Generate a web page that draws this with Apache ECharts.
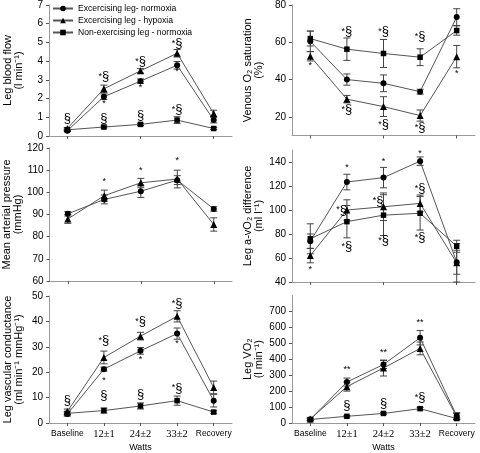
<!DOCTYPE html>
<html><head><meta charset="utf-8">
<script src="https://cdn.jsdelivr.net/npm/echarts@6/dist/echarts.min.js"></script>
<style>html,body{margin:0;padding:0;background:#fff}#c{width:480px;height:453px}</style>
</head><body><div id="c"></div>
<script>
const categories = ['Baseline', '12±1', '24±2', '33±2', 'Recovery'];
const seriesNames = ['Excercising leg- normoxia', 'Excercising leg - hypoxia', 'Non-exercising leg - normoxia'];

// Panel 1: Leg blood flow (l min-1)
const flowNormoxia = [0.28, 2.1, 2.93, 3.78, 0.85];
const flowNormoxiaErr = [0.05, 0.15, 0.12, 0.2, 0.15];
const flowHypoxia = [0.4, 2.52, 3.48, 4.42, 1.2];
const flowHypoxiaErr = [0.05, 0.2, 0.12, 0.2, 0.18];
const flowNonEx = [0.33, 0.48, 0.62, 0.85, 0.4];
const flowNonExErr = [0.04, 0.05, 0.06, 0.18, 0.05];
const flowMarks = [[0, 0.95, '§'], [1, 3.2, '*§'], [1, 1.72, '*'], [1, 0.92, '§'], [2, 4.0, '*§'], [2, 2.6, '*'], [2, 1.1, '§'], [3, 4.95, '*§'], [3, 3.42, '*'], [3, 1.4, '*§']];
const flowTicks = [0, 1, 2, 3, 4, 5, 6, 7];

// Panel 2: Venous O2 saturation (%)
const satNormoxia = [60.5, 40, 38, 33.5, 73.5];
const satNormoxiaErr = [5.5, 3, 4.5, 1.3, 4.5];
const satHypoxia = [52.5, 29.5, 25.5, 20.7, 52.3];
const satHypoxiaErr = [2.5, 2, 5.3, 3, 6];
const satNonEx = [62, 56.3, 54, 52, 66.3];
const satNonExErr = [4, 6, 7.5, 4.5, 2.5];
const satMarks = [[0, 47.5, '*'], [1, 66, '*§'], [1, 24, '*§'], [2, 66, '*§'], [2, 16, '*§'], [3, 63, '*§'], [3, 14.5, '*§'], [4, 43, '*']];
const satTicks = [20, 40, 60, 80];

// Panel 3: Mean arterial pressure (mmHg)
const mapNormoxia = [90.3, 96.8, 100.5, 105.5, 92.5];
const mapNormoxiaErr = [1, 2, 2.8, 2, 1];
const mapHypoxia = [88, 98.5, 104.3, 106, 85.5];
const mapHypoxiaErr = [2, 2.5, 2, 4, 3];
const mapMarks = [[1, 105, '*'], [2, 110, '*'], [3, 114.5, '*']];
const mapTicks = [60, 70, 80, 90, 100, 110, 120];

// Panel 4: Leg a-vO2 difference (ml l-1)
const avoNormoxia = [74, 123.3, 127, 140.7, 56.5];
const avoNormoxiaErr = [6, 6.5, 8.5, 3.5, 10];
const avoHypoxia = [62, 100, 102.7, 105.5, 56];
const avoHypoxiaErr = [6, 8.5, 11.5, 7, 16];
const avoNonEx = [76, 90.3, 95.7, 97.3, 69.8];
const avoNonExErr = [12.5, 13.5, 17, 14, 5];
const avoMarks = [[0, 50, '*'], [1, 135.5, '*'], [2, 140, '*'], [3, 147, '*'], [1, 100, '*§', 'right'], [2, 107.5, '*§', 'right'], [3, 118, '*§'], [1, 69.5, '*§'], [2, 74.5, '*§'], [3, 77, '*§']];
const avoTicks = [40, 60, 80, 100, 120, 140];

// Panel 5: Leg vascular conductance (ml min-1 mmHg-1)
const condNormoxia = [3.5, 21.2, 28.4, 35.2, 8.8];
const condNormoxiaErr = [0.8, 0.8, 1.3, 2.2, 2.5];
const condHypoxia = [4.5, 25.8, 34.2, 42, 14];
const condHypoxiaErr = [1, 2.5, 1.5, 2.2, 2.5];
const condNonEx = [3.8, 4.9, 6.7, 8.8, 4.3];
const condNonExErr = [0.7, 1, 1.2, 1.8, 0.5];
const condMarks = [[0, 8.8, '§'], [1, 32.5, '*§'], [1, 16.8, '*'], [1, 10.7, '§'], [2, 39.8, '*§'], [2, 25, '*'], [2, 11.2, '§'], [3, 47, '*§'], [3, 31.3, '*'], [3, 13.8, '*§']];
const condTicks = [0, 10, 20, 30, 40, 50];

// Panel 6: Leg VO2 (l min-1)
const vo2Normoxia = [22, 257, 367, 535, 45];
const vo2NormoxiaErr = [8, 25, 25, 45, 20];
const vo2Hypoxia = [25, 228, 345, 468, 40];
const vo2HypoxiaErr = [8, 28, 50, 40, 20];
const vo2NonEx = [22, 42, 60, 90, 28];
const vo2NonExErr = [5, 5, 5, 8, 5];
const vo2Marks = [[1, 335, '**'], [2, 445, '**'], [3, 628, '**'], [1, 110, '§'], [2, 122, '§'], [3, 160, '*§']];
const vo2Ticks = [0, 100, 200, 300, 400, 500, 600, 700];

const SANS = "'Liberation Sans', Arial, sans-serif";
const SERIF = "'Liberation Serif', 'Times New Roman', serif";
const symbols = ['circle', 'triangle', 'rect'];
const symSizes = [6, 7, 5.5];

const panels = [
  {grid: {left: 49, top: 3, width: 183, height: 133}, min: 0, max: 7, ticks: flowTicks,
   name: 'Leg blood flow\n(l min⁻¹)', gap: 25, bottom: false,
   lines: [[0, flowNormoxia, flowNormoxiaErr], [1, flowHypoxia, flowHypoxiaErr], [2, flowNonEx, flowNonExErr]], marks: flowMarks},
  {grid: {left: 292, top: 4, width: 183, height: 131.5}, min: 10, max: 80, ticks: satTicks,
   name: 'Venous O₂ saturation\n(%)', gap: 28, bottom: false,
   lines: [[0, satNormoxia, satNormoxiaErr], [1, satHypoxia, satHypoxiaErr], [2, satNonEx, satNonExErr]], marks: satMarks},
  {grid: {left: 49, top: 148, width: 183, height: 133}, min: 60, max: 120, ticks: mapTicks,
   name: 'Mean arterial pressure\n(mmHg)', gap: 25, bottom: false,
   lines: [[0, mapNormoxia, mapNormoxiaErr], [1, mapHypoxia, mapHypoxiaErr]], marks: mapMarks},
  {grid: {left: 292, top: 150, width: 183, height: 132}, min: 40, max: 150, ticks: avoTicks,
   name: 'Leg a-vO₂ difference\n(ml l⁻¹)', gap: 28, bottom: false,
   lines: [[0, avoNormoxia, avoNormoxiaErr], [1, avoHypoxia, avoHypoxiaErr], [2, avoNonEx, avoNonExErr]], marks: avoMarks},
  {grid: {left: 49, top: 296, width: 183, height: 130}, min: 0, max: 50, ticks: condTicks,
   name: 'Leg vascular conductance\n(ml min⁻¹ mmHg⁻¹)', gap: 25, bottom: true,
   lines: [[0, condNormoxia, condNormoxiaErr], [1, condHypoxia, condHypoxiaErr], [2, condNonEx, condNonExErr]], marks: condMarks},
  {grid: {left: 292, top: 295.5, width: 183, height: 130.5}, min: 0, max: 800, ticks: vo2Ticks,
   name: 'Leg VO₂\n(l min⁻¹)', gap: 28, bottom: true,
   lines: [[0, vo2Normoxia, vo2NormoxiaErr], [1, vo2Hypoxia, vo2HypoxiaErr], [2, vo2NonEx, vo2NonExErr]], marks: vo2Marks}
];

function errRender(params, api) {
  const x = api.value(0);
  const lo = api.coord([x, api.value(1)]);
  const hi = api.coord([x, api.value(2)]);
  const w = 3.5;
  const st = {stroke: '#444', lineWidth: 1};
  return {type: 'group', children: [
    {type: 'line', shape: {x1: lo[0], y1: lo[1], x2: hi[0], y2: hi[1]}, style: st},
    {type: 'line', shape: {x1: lo[0] - w, y1: lo[1], x2: lo[0] + w, y2: lo[1]}, style: st},
    {type: 'line', shape: {x1: hi[0] - w, y1: hi[1], x2: hi[0] + w, y2: hi[1]}, style: st}
  ]};
}

function markRender(marks) {
  return function (params, api) {
    const m = marks[params.dataIndex];
    const p = api.coord([m[0], m[1]]);
    const align = m[3] || 'center';
    const txt = m[2].replace(/\*/g, '{s|*}').replace(/§/g, '{p|§}');
    return {type: 'text', x: p[0], y: p[1],
      style: {text: txt, align: align, verticalAlign: 'middle', fill: '#000',
        rich: {s: {fontSize: 9, fontFamily: SANS, fill: '#000'}, p: {fontSize: 13, fontFamily: SANS, fill: '#000'}}}};
  };
}

const grids = [], xAxes = [], yAxes = [], series = [];
panels.forEach((pn, i) => {
  grids.push(pn.grid);
  xAxes.push({
    type: 'category', gridIndex: i, data: categories, boundaryGap: true,
    axisLine: {lineStyle: {color: '#9a9a9a', width: 1}},
    axisTick: {show: true, alignWithLabel: true, length: 3, lineStyle: {color: '#555'}},
    axisLabel: pn.bottom ? {
      show: true, margin: 6, interval: 0,
      formatter: v => (/^\d/.test(v) ? '{n|' + v + '}' : '{w|' + v + '}'),
      rich: {n: {fontFamily: SERIF, fontSize: 10.5, color: '#000'}, w: {fontFamily: SANS, fontSize: 8.5, color: '#000'}}
    } : {show: false},
    name: pn.bottom ? 'Watts' : '', nameLocation: 'middle', nameGap: 20,
    nameTextStyle: {fontFamily: SANS, fontSize: 9, color: '#000'}
  });
  yAxes.push({
    type: 'value', gridIndex: i, min: pn.min, max: pn.max,
    splitLine: {show: false},
    axisLine: {show: true, lineStyle: {color: '#9a9a9a', width: 1}},
    axisTick: {show: true, length: 3, customValues: pn.ticks, lineStyle: {color: '#555'}},
    axisLabel: {show: true, margin: 6, customValues: pn.ticks, fontFamily: SANS, fontSize: 10, color: '#000'},
    name: pn.name, nameLocation: 'middle', nameRotate: 90, nameGap: pn.gap,
    nameTextStyle: {fontFamily: SANS, fontSize: 11, lineHeight: 11, color: '#000', align: 'center'}
  });
  pn.lines.forEach(([k, vals, errs]) => {
    series.push({
      type: 'custom', xAxisIndex: i, yAxisIndex: i, name: 'err' + i + k, z: 2, silent: true,
      renderItem: errRender, clip: false,
      data: vals.map((v, j) => [j, v - errs[j], v + errs[j]])
    });
    series.push({
      type: 'line', xAxisIndex: i, yAxisIndex: i, name: seriesNames[k], z: 3,
      data: vals, symbol: symbols[k], symbolSize: symSizes[k], showAllSymbol: true,
      lineStyle: {color: '#555', width: 1}, itemStyle: {color: '#000'}
    });
  });
  series.push({
    type: 'custom', xAxisIndex: i, yAxisIndex: i, name: 'marks' + i, z: 4, silent: true, clip: false,
    renderItem: markRender(pn.marks), data: pn.marks.map(m => [m[0], m[1]])
  });
});

const chart = echarts.init(document.getElementById('c'), null, {renderer: 'canvas'});
chart.setOption({
  animation: false,
  backgroundColor: '#fff',
  textStyle: {fontFamily: SANS},
  legend: {
    data: seriesNames, orient: 'vertical', left: 52, top: 4, itemWidth: 20, itemHeight: 7, itemGap: 3,
    textStyle: {fontFamily: SANS, fontSize: 8.6, color: '#000'}, padding: 0, selectedMode: false
  },
  grid: grids, xAxis: xAxes, yAxis: yAxes, series: series
});
</script></body></html>
